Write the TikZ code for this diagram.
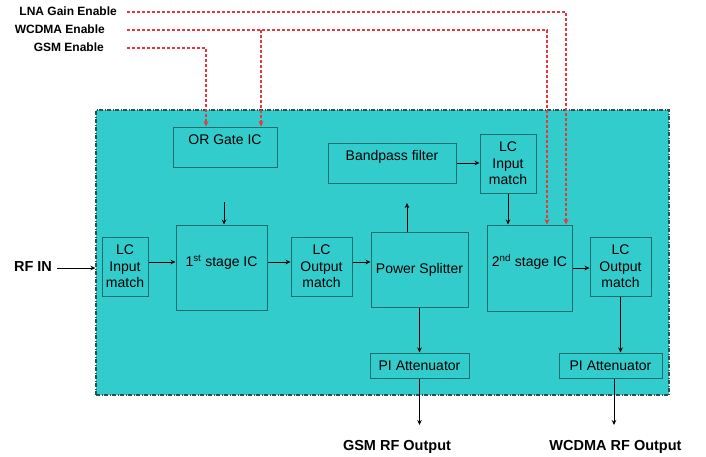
\documentclass[tikz,border=0pt]{standalone}
\usepackage{fontspec}
\setmainfont{Liberation Sans}
\usetikzlibrary{arrows.meta,calc}
\definecolor{panelfill}{HTML}{33CCCC}
\definecolor{edgecol}{HTML}{1A6E6E}
\definecolor{bordercol}{HTML}{2A5252}
\definecolor{sigcol}{HTML}{E5383C}
\begin{document}
\begin{tikzpicture}[x=1pt,y=-1pt,
  blk/.style={draw=edgecol, line width=1pt, inner sep=0pt, align=center,
    font=\fontsize{14}{16.5}\selectfont},
  txt/.style={inner sep=0pt, align=center, font=\fontsize{14}{16.5}\selectfont},
  toplbl/.style={inner sep=0pt, anchor=east, font=\bfseries\fontsize{12}{14}\selectfont},
  outlbl/.style={inner sep=0pt, font=\bfseries\fontsize{14.5}{17}\selectfont},
  arr/.style={-{Stealth[length=5pt,width=4.5pt]}, line width=0.75pt, black},
  ctl/.style={draw=sigcol, dash pattern=on 3pt off 2pt, line width=1.1pt,
    -{Stealth[length=5.5pt,width=5pt]}}
]
\useasboundingbox (0,0) rectangle (706,456);

% panel
\node[draw=bordercol, fill=panelfill, line width=1.2pt,
  dash pattern=on 4pt off 1.5pt on 1pt off 1.5pt,
  minimum width=573pt, minimum height=285pt, inner sep=0pt] (panel) at (382.5,252.5) {};

% blocks
\node[blk, minimum width=104pt, minimum height=40pt] (or) at (225,147) {};
\node[txt] (orT) at (225,140) {OR Gate IC};
\node[blk, minimum width=128pt, minimum height=40pt] (bpf) at (392,163) {};
\node[txt] (bpfT) at (392,157) {Bandpass filter};
\node[blk, minimum width=56pt, minimum height=59pt] (lcin2) at (508,163.5) {LC\\Input\\match};
\node[blk, minimum width=46pt, minimum height=59pt] (lcin1) at (125,266.5) {LC\\Input\\match};
\node[blk, minimum width=91pt, minimum height=85pt] (st1) at (221.5,267.5) {};
\node[txt] (st1T) at (221.5,262) {1\textsuperscript{st} stage IC};
\node[blk, minimum width=61pt, minimum height=59pt] (lcout1) at (321.5,266.5) {LC\\Output\\match};
\node[blk, minimum width=97pt, minimum height=75pt] (ps) at (419.5,269.5) {Power Splitter};
\node[blk, minimum width=85pt, minimum height=86pt] (st2) at (529.5,268) {};
\node[txt] (st2T) at (529.5,262) {2\textsuperscript{nd} stage IC};
\node[blk, minimum width=61pt, minimum height=59pt] (lcout2) at (620.5,266.5) {LC\\Output\\match};
\node[blk, minimum width=99pt, minimum height=25pt] (pi1) at (419.5,365.5) {PI Attenuator};
\node[blk, minimum width=103pt, minimum height=25pt] (pi2) at (610.5,365.5) {PI Attenuator};

% outside labels
\node[toplbl] (lna) at (117,11) {LNA Gain Enable};
\node[toplbl] (wcdma) at (105,29) {WCDMA Enable};
\node[toplbl] (gsm) at (104,47) {GSM Enable};
\node[outlbl] (rfin) at (33,267) {RF IN};
\node[outlbl] (gsmout) at (397,447) {GSM RF Output};
\node[outlbl] (wcdmaout) at (615.5,447) {WCDMA RF Output};

% signal path
\draw[arr] ([xshift=5pt]rfin.east |- 0,268) -- (panel.west |- 0,268);
\draw[arr] (lcin1.east |- 0,262) -- (st1.west |- 0,262);
\draw[arr] (st1.east |- 0,262) -- (lcout1.west |- 0,262);
\draw[arr] (lcout1.east |- 0,262) -- (ps.west |- 0,262);
\draw[arr] (st2.east |- 0,268) -- (lcout2.west |- 0,268);
\draw[arr] (bpf.east) -- (bpf.east -| lcin2.west);
\draw[arr] (lcin2.south) -- (lcin2.south |- st2.north);
\coordinate (st1in) at (224,202);
\draw[arr] (st1in) -- (st1in |- st1.north);
\coordinate (psout) at (407,203);
\draw[arr] (ps.north -| psout) -- (psout);
\draw[arr] (ps.south) -- (pi1.north);
\draw[arr] (lcout2.south) -- (lcout2.south |- pi2.north);
\coordinate (o1) at (419.5,425);
\draw[arr] (pi1.south) -- (o1);
\coordinate (o2) at (614,425);
\draw[arr] (pi2.south -| o2) -- (o2);

% control lines
\draw[ctl] ([xshift=10pt]lna.east |- 0,12) -| (st2.north -| 566,0);
\draw[ctl] ([xshift=22pt]wcdma.east |- 0,30) -| (st2.north -| 547,0);
\coordinate (wbr) at (261,30);
\draw[ctl] (wbr) -- (wbr |- or.north);
\draw[ctl] ([xshift=23pt]gsm.east |- 0,48) -| (or.north -| 206,0);
\end{tikzpicture}
\end{document}
